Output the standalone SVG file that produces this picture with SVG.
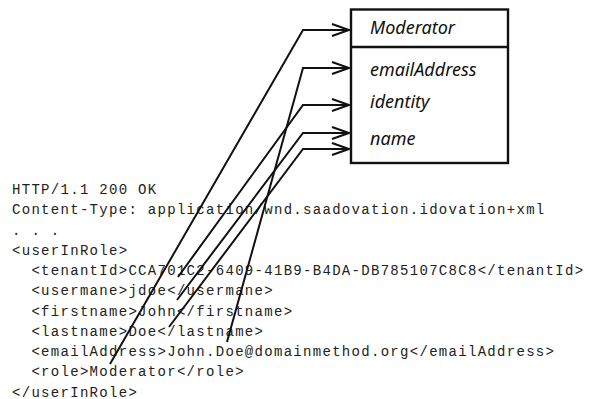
<svg xmlns="http://www.w3.org/2000/svg" width="590" height="399" viewBox="0 0 590 399">
  <defs>
    <marker id="chev" markerUnits="userSpaceOnUse" markerWidth="22" markerHeight="16" viewBox="0 0 22 16" refX="19" refY="8" orient="auto">
      <path d="M2,2 L19,8 L2,14" fill="none" stroke="#111" stroke-width="2"/>
    </marker>
    <style>
      .mono { font-family: "Liberation Mono", "Courier New", monospace; font-size: 14px; letter-spacing: 1.3px; fill: #222; white-space: pre; }
      .cls { font-family: "Noto Sans", "DejaVu Sans", sans-serif; font-style: italic; font-size: 18px; fill: #111; }
      .box { fill: #fff; stroke: #111; stroke-width: 2.4; }
      .conn { fill: none; stroke: #111; stroke-width: 2; marker-end: url(#chev); }
    </style>
  </defs>
  <rect width="590" height="399" fill="#fff"/>

  <g id="http-response">
    <text class="mono" x="12" y="194" xml:space="preserve">HTTP/1.1 200 OK</text>
    <text class="mono" x="12" y="214.25" xml:space="preserve">Content-Type: application/wnd.saadovation.idovation+xml</text>
    <text class="mono" x="12" y="234.5" xml:space="preserve">. . .</text>
    <text class="mono" x="12" y="254.75" xml:space="preserve">&lt;userInRole&gt;</text>
    <text class="mono" x="12" y="275" xml:space="preserve">  &lt;tenantId&gt;CCA701C2-6409-41B9-B4DA-DB785107C8C8&lt;/tenantId&gt;</text>
    <text class="mono" x="12" y="295.25" xml:space="preserve">  &lt;usermane&gt;jdoe&lt;/usermane&gt;</text>
    <text class="mono" x="12" y="315.5" xml:space="preserve">  &lt;firstname&gt;John&lt;/firstname&gt;</text>
    <text class="mono" x="12" y="335.75" xml:space="preserve">  &lt;lastname&gt;Doe&lt;/lastname&gt;</text>
    <text class="mono" x="12" y="356" xml:space="preserve">  &lt;emailAddress&gt;John.Doe@domainmethod.org&lt;/emailAddress&gt;</text>
    <text class="mono" x="12" y="376.25" xml:space="preserve">  &lt;role&gt;Moderator&lt;/role&gt;</text>
    <text class="mono" x="12" y="396.5" xml:space="preserve">&lt;/userInRole&gt;</text>
  </g>

  <g id="moderator">
    <rect class="box" x="351" y="9.5" width="157" height="153.5"/>
    <line x1="351" y1="47" x2="508" y2="47" stroke="#111" stroke-width="2.4"/>
    <text class="cls" x="370" y="34">Moderator</text>
    <text class="cls" x="370" y="76">emailAddress</text>
    <text class="cls" x="370" y="108">identity</text>
    <text class="cls" x="370" y="145">name</text>
  </g>

  <g id="connectors">
    <polyline class="conn" points="110,364 303,30 349,30"/>
    <polyline class="conn" points="227,342 303,68 349,68"/>
    <polyline class="conn" points="178,277 303,105 349,105"/>
    <polyline class="conn" points="177,300 303,133 349,133"/>
    <polyline class="conn" points="169,327 303,149 349,149"/>
  </g>
</svg>
